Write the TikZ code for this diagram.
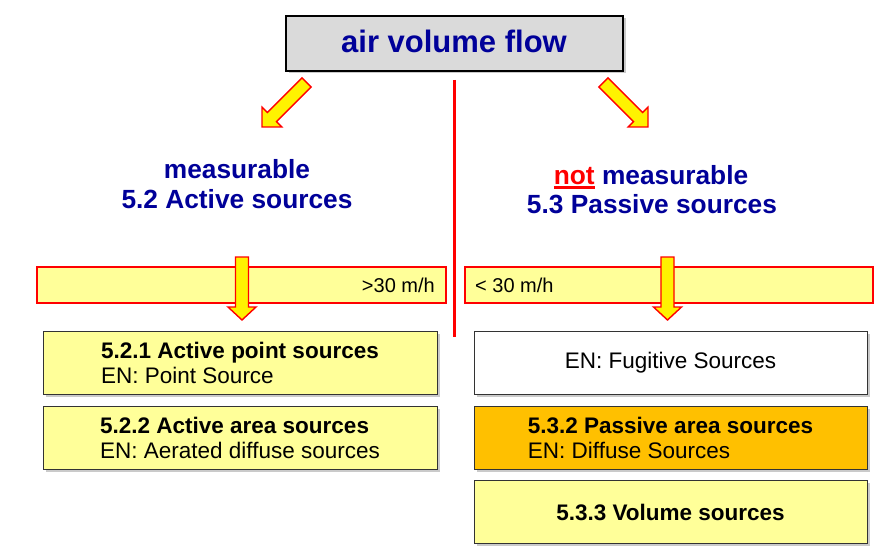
\documentclass[tikz,border=0pt]{standalone}
\usepackage{fontspec}
\setmainfont{Liberation Sans}
\usetikzlibrary{shadows}
\definecolor{dblue}{HTML}{000099}
\definecolor{lyellow}{HTML}{FFFF99}
\definecolor{aorange}{HTML}{FFC000}
\definecolor{lgray}{HTML}{DADADA}
\newcommand\redul[1]{\begingroup\setbox0\hbox{#1}\rlap{\textcolor{red}{\rule[-5pt]{\wd0}{2.6pt}}}\box0\endgroup}
\newcommand\fsz[2]{\fontsize{#1}{#2}\selectfont}
\tikzset{
  x=1pt, y=-1pt,
  shad/.style={drop shadow={shadow xshift=2.5pt, shadow yshift=-2.5pt, fill=black!35, opacity=0.6}},
  topbox/.style={draw=black, line width=1.6pt, fill=lgray, shad, minimum width=337pt, minimum height=55pt, inner sep=0pt},
  barbox/.style={draw=red, line width=2.6pt, fill=lyellow, minimum height=36pt, inner sep=0pt},
  srcbox/.style={draw=black!80, line width=0.8pt, shad, minimum height=63pt, inner sep=0pt, align=left, font=\fsz{22.5}{25}},
  head/.style={anchor=base, text=dblue, font=\bfseries\fsz{26.3}{30}, inner sep=0pt},
  bartext/.style={font=\fsz{20}{24}, inner sep=0pt},
  blockarrow/.pic={
    \draw[draw=red, line width=1.4pt, fill=yellow, line join=miter]
      (0,0) -- (-#1,14) -- (-#1,6.5) -- (-63,6.5) -- (-63,-6.5) -- (-#1,-6.5) -- (-#1,-14) -- cycle;
  }
}
\begin{document}
\begin{tikzpicture}
\useasboundingbox (0,0) rectangle (890,556);
% top
\node[topbox] (top) at (454.5,43.5) {};
\node[anchor=base, text=dblue, font=\bfseries\fsz{31}{36}, inner sep=0pt] (toptext) at (454,53) {air volume flow};
% divider
\coordinate (divtop) at (454,80);
\coordinate (divbot) at (454,337);
\draw[red, line width=3pt] (divtop) -- (divbot);
% diagonal arrows
\pic[rotate=-135] at (262,127) {blockarrow=14};
\pic[rotate=-45] at (648,127) {blockarrow=14};
% headings
\node[head] (meas) at (237,178) {measurable};
\node[head] (act) at (237,208) {5.2 Active sources};
\node[head] (nmeas) at (651,184) {\redul{\textcolor{red}{not}}\ measurable};
\node[head] (pas) at (652,213) {5.3 Passive sources};
% bars
\node[barbox, minimum width=409pt] (barL) at (241.5,285) {};
\node[barbox, minimum width=408pt] (barR) at (669,285) {};
\node[bartext, anchor=base east] (barLt) at (435,292) {>30 m/h};
\node[bartext, anchor=base west] (barRt) at (475,292) {< 30 m/h};
% down arrows
\pic[rotate=-90] at (242,320) {blockarrow=13};
\pic[rotate=-90] at (667.5,320) {blockarrow=13};
% source boxes
\node[srcbox, fill=lyellow, minimum width=394pt] (b521) at (240,362.5) {\textbf{5.2.1 Active point sources}\\EN: Point Source};
\node[srcbox, fill=lyellow, minimum width=394pt] (b522) at (240,437.5) {\textbf{5.2.2 Active area sources}\\EN: Aerated diffuse sources};
\node[srcbox, fill=white, minimum width=393pt] (bfug) at (670.5,362.5) {EN: Fugitive Sources};
\node[srcbox, fill=aorange, minimum width=393pt] (b532) at (670.5,437.5) {\textbf{5.3.2 Passive area sources}\\EN: Diffuse Sources};
\node[srcbox, fill=lyellow, minimum width=393pt] (b533) at (670.5,512) {\textbf{5.3.3 Volume sources}};
\end{tikzpicture}
\end{document}
